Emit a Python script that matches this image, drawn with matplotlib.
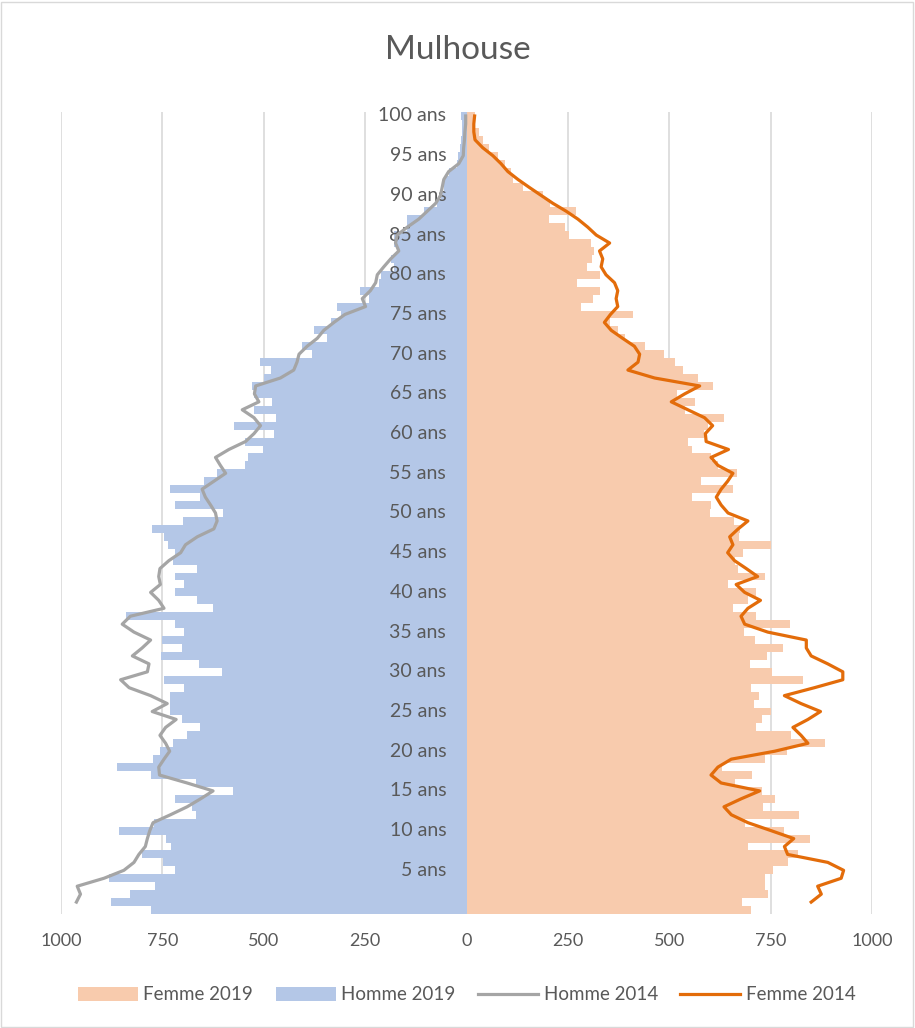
import matplotlib
matplotlib.use("Agg")
import matplotlib.pyplot as plt
from matplotlib.patches import Rectangle
import numpy as np

# ages 0..100 (bars), lines 2014 drawn for ages 1..100
ages = list(range(0, 101))
ages_2014 = list(range(1, 101))

femme_2019 = [702, 679, 743, 737, 737, 755, 792, 817, 695, 848,
              783, 688, 819, 731, 760, 728, 661, 704, 630, 735,
              791, 884, 800, 714, 728, 750, 708, 722, 702, 829,
              753, 698, 741, 780, 712, 684, 797, 714, 657, 694,
              714, 646, 737, 669, 661, 681, 750, 673, 675, 660,
              600, 603, 556, 657, 579, 667, 620, 603, 556, 546,
              585, 595, 636, 538, 564, 520, 609, 572, 533, 513,
              487, 439, 391, 373, 353, 411, 283, 312, 330, 273,
              330, 298, 310, 315, 307, 254, 244, 203, 270, 205,
              188, 140, 115, 110, 95, 77, 55, 40, 30, 20, 22]

homme_2019 = [777, 876, 829, 769, 882, 718, 748, 800, 728, 740,
              856, 771, 668, 677, 720, 575, 668, 777, 863, 773,
              755, 723, 690, 656, 701, 732, 732, 730, 696, 745,
              604, 660, 753, 702, 750, 696, 718, 839, 626, 664,
              718, 697, 718, 664, 723, 720, 737, 745, 775, 699,
              600, 718, 656, 730, 648, 615, 547, 540, 501, 547,
              475, 574, 469, 524, 479, 524, 530, 500, 483, 510,
              381, 405, 344, 375, 335, 310, 320, 241, 263, 216,
              212, 179, 187, 171, 179, 179, 146, 146, 105, 72,
              64, 56, 56, 44, 23, 20, 15, 13, 12, 10, 13]

homme_2014 = [962, 952, 960, 894, 845, 820, 808, 792, 787, 781,
              773, 730, 689, 656, 625, 689, 757, 759, 746, 732,
              742, 756, 742, 716, 775, 738, 779, 832, 853, 787,
              783, 824, 800, 779, 820, 849, 829, 746, 759, 779,
              755, 759, 756, 734, 705, 693, 664, 623, 615, 619,
              631, 644, 652, 623, 594, 607, 619, 586, 545, 524,
              508, 524, 553, 512, 523, 520, 459, 426, 418, 413,
              393, 368, 352, 327, 300, 249, 257, 237, 224, 220,
              204, 187, 167, 175, 171, 146, 118, 97, 76, 64,
              60, 56, 44, 19, 8, 7, 5, 4, 2, 2]

femme_2014 = [850, 875, 866, 924, 930, 891, 792, 784, 807, 751,
              694, 653, 635, 677, 723, 628, 603, 620, 653, 760,
              842, 825, 805, 842, 873, 825, 784, 858, 928, 928,
              891, 850, 838, 838, 743, 686, 677, 694, 725, 686,
              665, 718, 690, 661, 644, 657, 649, 670, 694, 645,
              628, 616, 628, 644, 657, 620, 603, 646, 591, 589,
              607, 587, 546, 505, 538, 575, 464, 398, 423, 427,
              414, 385, 357, 340, 355, 373, 369, 373, 365, 344,
              332, 336, 328, 353, 320, 299, 275, 246, 213, 184,
              155, 127, 102, 85, 65, 40, 21, 18, 18, 20]

x_ticks = [-1000, -750, -500, -250, 0, 250, 500, 750, 1000]
age_labels = list(range(5, 101, 5))

c_femme = "#F8CBAD"
c_homme = "#B4C7E7"
c_h14 = "#A5A5A5"
c_f14 = "#E36C0A"
txt = "#595959"

plt.rcParams['font.family'] = ['Lato', 'DejaVu Sans']

fig = plt.figure(figsize=(9.15, 10.28), dpi=100)
ax = fig.add_axes([61 / 915, 114 / 1028, 811 / 915, 802 / 1028])

b1 = ax.barh(ages, femme_2019, height=1.0, color=c_femme, label="Femme 2019", zorder=2)
b2 = ax.barh(ages, [-v for v in homme_2019], height=1.0, color=c_homme, label="Homme 2019", zorder=2)
l1, = ax.plot([-v for v in homme_2014], ages_2014, color=c_h14, lw=2.3, label="Homme 2014", zorder=4)
l2, = ax.plot(femme_2014, ages_2014, color=c_f14, lw=2.3, label="Femme 2014", zorder=4)

for a in age_labels:
    ax.text(-50, a, f"{a} ans", ha="right", va="center", fontsize=14, color=txt, zorder=3)

ax.set_xlim(-1000, 1000)
ax.set_ylim(-0.5, 100.5)
ax.set_xticks(x_ticks)
ax.set_xticklabels([str(abs(t)) for t in x_ticks], fontsize=13, color=txt)
ax.tick_params(axis="x", length=0, pad=14)
ax.set_yticks([])
ax.grid(axis="x", color="#D9D9D9", lw=1.2, zorder=0)
ax.set_axisbelow(True)
for s in ax.spines.values():
    s.set_visible(False)

fig.suptitle("Mulhouse", y=(1028 - 50) / 1028, va="center", fontsize=24, color=txt)

leg = fig.legend([b1, b2, l1, l2], ["Femme 2019", "Homme 2019", "Homme 2014", "Femme 2014"],
                 loc="center", bbox_to_anchor=(0.51, (1028 - 995) / 1028), ncol=4,
                 frameon=False, fontsize=13.5, handlelength=3.2, handleheight=0.8,
                 columnspacing=1.2, handletextpad=0.3)
for t in leg.get_texts():
    t.set_color(txt)

fig.patches.append(Rectangle((0.001, 0.001), 0.997, 0.997, transform=fig.transFigure,
                             fill=False, edgecolor="#D9D9D9", lw=1))

fig.savefig("out.png", dpi=100)
